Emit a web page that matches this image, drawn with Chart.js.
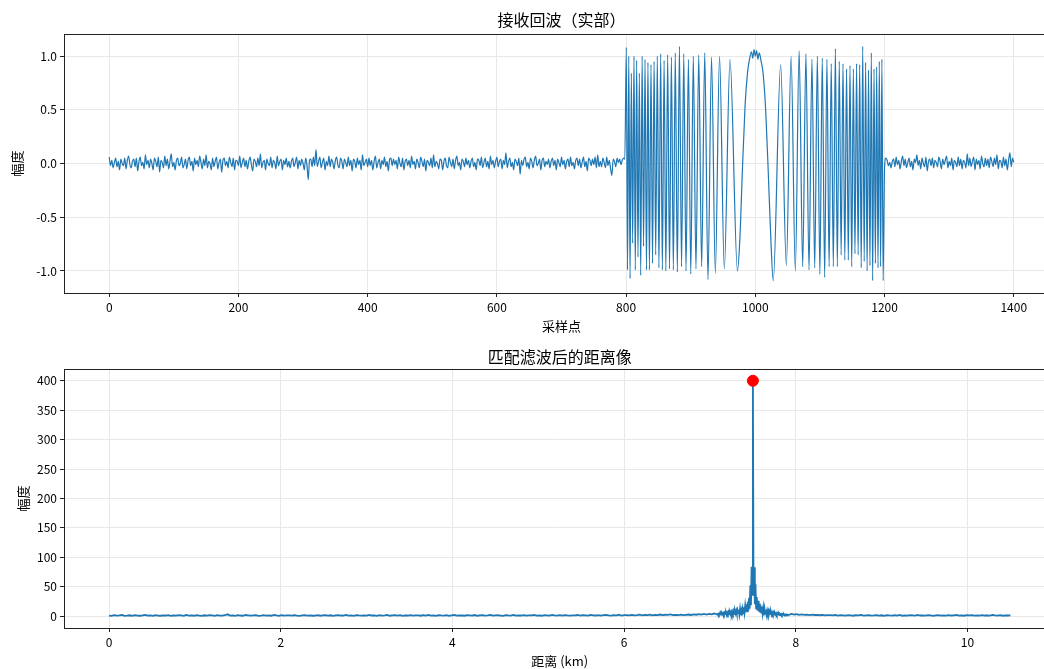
<!DOCTYPE html>
<html>
<head>
<meta charset="utf-8">
<script src="https://cdn.jsdelivr.net/npm/chart.js@4.4.0/dist/chart.umd.min.js"></script>
<style>
html, body { margin: 0; padding: 0; background: #fff; overflow: hidden; width: 1044px; height: 669px; }
canvas { position: absolute; left: 0; }
#echo { top: 0; }
#profile { top: 334px; }
</style>
</head>
<body>
<canvas id="echo" width="1062" height="334"></canvas>
<canvas id="profile" width="1062" height="335"></canvas>
<script>
// ---- received echo (real part) ----
const echoTicksX = [0, 200, 400, 600, 800, 1000, 1200, 1400];
const echoTicksY = [-1.0, -0.5, 0.0, 0.5, 1.0];

// noise before the pulse, every 2nd sample, 0..798
const noiseHead = [
  .06,-.02,.03,-.04,.01,.05,-.03,.02,-.06,.04,.00,-.02,.05,-.05,.03,.07,-.01,-.04,.02,.04,
  -.03,.05,-.07,.02,.06,-.02,.01,-.05,.08,-.01,.03,-.04,.04,.00,-.06,.05,.02,-.03,.06,-.08,
  .03,.01,-.04,.07,-.02,.04,-.05,.02,.09,-.03,.01,-.06,.03,.05,-.02,.00,.06,-.04,-.01,.04,
  -.05,.03,.06,-.02,.02,-.07,.05,-.01,.03,-.03,.07,.01,-.05,.04,-.02,.08,-.04,.02,.00,-.06,
  .05,-.03,.02,.06,-.05,.01,.04,-.08,.03,.05,-.02,.02,-.04,.06,.01,-.03,.05,-.06,.03,.02,
  -.02,.07,-.04,.01,.05,-.03,.03,-.05,.02,.06,-.01,-.07,.04,.02,-.03,.05,-.02,.09,-.04,.01,
  .03,-.06,.04,.00,-.02,.06,-.04,.03,.01,-.05,.07,-.02,.02,.04,-.06,.03,-.01,.05,-.03,.02,
  -.04,.02,.05,-.03,.01,.06,-.05,.03,-.02,.04,.00,-.06,.05,-.01,-.15,.03,.04,-.03,.06,-.02,
  .13,-.03,.02,.06,-.04,.01,.05,-.06,.02,-.02,.07,-.03,.04,.01,-.05,.03,.06,-.02,-.04,.05,
  .02,-.05,.04,.01,-.03,.06,-.02,.03,-.07,.04,.02,-.04,.05,-.01,.03,-.06,.08,-.02,.01,.04,
  -.03,.05,-.02,.03,-.06,.02,.07,-.04,.01,.04,-.05,.03,-.01,.06,-.03,.02,-.07,.04,.05,-.02,
  .04,-.01,.03,-.05,.06,.00,-.03,.05,-.06,.02,.04,-.02,.03,-.04,.07,-.01,.02,-.05,.04,.01,
  -.04,.06,.02,-.03,.04,-.07,.03,.01,-.02,.05,-.04,.08,-.03,.02,.00,-.05,.04,.03,-.06,.02,
  .05,-.02,-.04,.06,.01,-.03,.04,-.05,.03,.07,-.02,.01,-.06,.04,.02,-.03,.05,-.01,.03,-.04,
  .02,.05,-.03,.01,-.06,.04,.03,-.02,.06,-.04,.01,.05,-.03,.02,-.05,.07,-.01,.03,-.04,.02,
  .06,-.03,.02,.04,-.05,.03,-.01,.10,-.04,.02,.05,-.03,.01,-.06,.04,.02,-.02,.05,-.10,.03,
  -.02,.04,.06,-.03,.01,-.05,.05,.02,-.04,.03,.07,-.02,.00,.04,-.06,.03,.05,-.03,.02,-.01,
  .04,-.04,.02,.05,-.02,.03,-.06,.04,.01,-.03,.06,-.01,.03,-.05,.02,.04,-.03,.06,-.02,.01,
  -.05,.03,.05,-.02,.04,-.04,.01,.06,-.03,.02,-.07,.05,.03,-.02,.04,-.01,.06,-.04,.08,-.03,
  .02,-.03,.05,.01,-.04,.06,-.02,.03,-.05,-.11,.04,.02,-.03,.05,.01,.04,-.01,.03,.05,.04
];

// the chirp pulse: turning points (sample index, amplitude)
const pulseIdx = [
  800.3, 802.2, 804.1, 806.1, 808.1, 810.1, 812.2, 814.2, 816.3, 818.4,
  820.5, 822.6, 824.8, 827.0, 829.3, 831.5, 833.8, 836.1, 838.5, 840.9,
  843.3, 845.8, 848.3, 850.8, 853.5, 856.1, 858.8, 861.5, 864.3, 867.2,
  870.1, 873.1, 876.1, 879.3, 882.5, 885.8, 889.2, 892.7, 896.4, 900.1,
  904.0, 908.1, 912.4, 916.9, 921.7, 926.7, 932.2, 938.1, 944.6, 952.0,
  960.8, 972.3,
  976, 980, 984, 988, 991, 994, 996, 998, 1000, 1002, 1004, 1006, 1009, 1012, 1016, 1020, 1024,
  1027.7, 1039.2, 1048.0, 1055.4, 1061.9, 1067.8, 1073.3, 1078.3, 1083.1, 1087.6,
  1091.9, 1096.0, 1099.9, 1103.6, 1107.3, 1110.8, 1114.2, 1117.5, 1120.7, 1123.9,
  1126.9, 1129.9, 1132.8, 1135.7, 1138.5, 1141.2, 1143.9, 1146.5, 1149.2, 1151.7,
  1154.2, 1156.7, 1159.1, 1161.5, 1163.9, 1166.2, 1168.5, 1170.7, 1173.0, 1175.2,
  1177.4, 1179.5, 1181.6, 1183.7, 1185.8, 1187.8, 1189.9, 1191.9, 1193.9, 1195.9,
  1197.8, 1200
];
const pulseAmp = [
  1.08,-0.99,1.0,-1.07,0.84,-0.74,1.0,-0.99,0.96,-0.87,
  0.84,-1.04,1.0,-0.77,0.97,-0.99,0.94,-0.99,0.92,-0.93,
  0.95,-0.85,1.0,-0.97,1.02,-0.99,0.96,-1.0,1.01,-0.98,
  0.99,-0.99,1.03,-1.01,1.09,-0.96,1.02,-1.0,0.97,-1.03,
  1.0,-0.98,1.01,-0.96,1.03,-1.08,0.99,-1.02,1.0,-0.98,
  0.97,-1.0,
  -0.71,-0.06,0.52,0.85,0.97,1.04,0.98,1.06,1.0,1.05,0.97,1.03,0.95,0.84,0.50,-0.08,-0.70,
  -1.09,0.92,-0.95,1.0,-1.0,1.05,-0.96,1.02,-0.99,0.97,
  -0.97,1.0,-1.03,0.98,-1.06,0.97,-0.96,0.93,-0.96,1.07,
  -0.96,0.95,-0.85,0.93,-0.9,0.88,-0.9,0.91,-0.96,0.88,
  -0.84,0.93,-0.85,0.92,-0.97,1.09,-0.91,0.94,-1.0,0.87,
  -0.95,1.03,-1.09,0.88,-0.93,0.9,-0.97,0.95,-0.96,0.97,
  -1.09,-0.04
];

// noise after the pulse, every 2nd sample, 1202..1400
const noiseTail = [
  .05,.03,-.02,.01,-.04,.02,.04,-.03,.06,-.01,.03,-.05,.02,.07,-.02,.04,-.04,.01,.05,-.03,
  .02,-.06,.04,.01,.08,-.02,.03,-.05,.05,.00,-.03,.06,-.07,.02,.04,-.02,.05,-.04,.03,.01,
  -.03,.06,.02,-.05,.04,-.01,.03,.07,-.04,.02,-.02,.05,-.06,.03,.01,-.03,.06,-.02,.04,-.05,
  .03,.01,-.04,.09,-.02,.05,-.03,.02,.06,-.06,.04,-.01,.03,-.05,.07,.00,-.03,.05,-.02,.04,
  -.04,.06,.02,-.03,.05,-.01,.08,-.05,.03,.02,-.04,.06,-.02,.04,-.06,.03,.10,-.03,.05,.01
];

// ---- range profile after matched filtering ----
const kmPerSample = 0.0075;
const profileTicksX = [0, 2, 4, 6, 8, 10];
const profileTicksY = [0, 50, 100, 150, 200, 250, 300, 350, 400];

// floor, every 4th sample, 0..940
const floorHead = [
  1.2,0.6,1.8,0.9,1.4,2.1,0.7,1.1,1.6,0.5,1.9,1.0,0.8,1.5,2.3,0.9,1.3,0.6,1.7,1.1,
  0.8,1.6,1.2,2.0,0.7,1.4,0.9,1.8,1.3,0.6,2.2,1.0,1.5,0.8,1.9,1.2,0.5,1.6,1.1,2.0,
  1.4,0.7,1.9,1.1,0.9,1.7,3.2,1.0,1.3,0.6,1.8,1.2,0.8,2.1,1.5,0.9,1.4,1.7,0.7,1.2,
  1.9,1.0,1.5,0.8,2.2,1.3,0.6,1.7,1.1,1.5,1.4,0.9,1.8,1.2,0.7,1.6,2.0,1.0,1.3,0.8,
  1.1,1.7,0.8,1.4,2.0,1.0,1.6,0.7,1.3,1.9,1.2,0.9,2.3,1.1,1.5,0.6,1.8,1.3,1.0,1.6,
  0.9,2.1,1.2,1.5,0.7,1.8,1.1,1.4,2.2,0.8,1.3,1.7,1.0,1.9,0.6,1.4,1.2,2.0,0.9,1.5,
  1.3,0.8,1.7,1.2,2.4,1.0,1.5,0.7,1.9,1.3,1.1,1.8,0.6,1.4,2.1,1.0,1.6,1.2,0.8,1.7,
  1.5,1.1,2.0,0.8,1.4,1.8,1.0,1.6,2.3,0.9,1.3,1.7,1.2,0.7,1.9,1.4,1.1,2.2,1.0,1.5,
  1.2,1.8,0.9,1.6,1.3,2.1,1.0,1.4,0.8,1.9,1.5,1.1,2.4,1.3,0.9,1.7,1.2,2.0,1.4,1.0,
  1.6,1.3,2.1,1.0,1.8,1.4,0.9,2.3,1.5,1.2,1.9,1.1,1.7,2.2,1.3,1.0,1.8,1.5,2.5,1.2,
  1.7,2.0,1.4,2.4,1.6,1.9,2.6,1.5,2.2,1.8,2.8,1.6,2.3,2.0,2.9,1.8,2.5,2.2,3.1,2.0,
  2.2,1.9,2.6,1.8,2.4,2.9,2.1,3.1,2.5,3.4,2.6,3.8,2.9,4.1,3.3,4.6
];
// around the target, every sample, 945..1055
const peakZone = [
  2.8,4.2,2.3,4.6,2.9,5.0,2.6,5.3,3.2,5.6,
  3.0,5.9,3.6,6.2,2.8,6.5,3.9,6.9,3.3,7.2,
  4.1,7.6,3.5,8.0,4.6,8.5,3.8,9.0,4.9,9.6,
  4.3,10.2,5.4,11.0,3.2,12.1,1.8,8.5,1.2,11.8,
  5.1,15.2,6.3,17.4,7.0,20.1,8.2,24.8,9.5,31.3,
  12.6,52.4,18.7,84.1,36.5,
  400,
  38.2,83.0,20.4,55.1,13.2,
  32.6,9.8,26.0,8.1,21.3,6.6,18.0,6.0,16.1,5.2,
  13.9,1.2,12.1,4.4,11.0,3.7,9.7,4.2,8.9,3.4,
  8.0,3.9,7.2,2.8,6.6,3.5,6.1,2.6,5.5,3.0,
  5.1,2.3,4.7,3.1,4.4,2.0,4.0,2.7,3.8,1.9,
  3.5,2.4,3.3,1.6,3.0,2.2,2.8,1.5,2.6,2.0
];
// floor, every 4th sample, 1060..1400
const floorTail = [
  3.9,2.6,3.5,2.2,3.1,2.4,2.8,1.9,2.6,2.1,2.3,1.7,2.2,1.5,2.0,1.8,1.4,2.1,1.2,1.9,
  1.6,1.1,2.0,1.4,0.8,1.7,1.3,2.2,1.0,1.5,1.8,0.9,1.4,2.0,1.1,1.6,0.7,1.9,1.3,1.0,
  1.7,1.2,2.1,0.8,1.5,1.1,1.8,1.4,0.9,2.3,1.2,1.6,1.0,1.9,1.3,0.7,1.5,2.0,1.1,1.4,
  0.9,1.8,1.2,1.6,2.1,1.0,1.4,0.8,1.7,1.3,2.0,1.1,1.5,0.9,1.8,1.2,1.6,1.0,2.2,1.3,
  1.1,1.7,0.8,1.5,1.2,1.4
];

// ---- build points ----
const echoPoints = [];
noiseHead.forEach((v, i) => echoPoints.push({ x: i * 2, y: v }));
pulseIdx.forEach((n, i) => echoPoints.push({ x: n, y: pulseAmp[i] }));
noiseTail.forEach((v, i) => echoPoints.push({ x: 1202 + i * 2, y: v }));

const profilePoints = [];
floorHead.forEach((v, i) => profilePoints.push({ x: i * 4 * kmPerSample, y: v }));
peakZone.forEach((v, i) => profilePoints.push({ x: (945 + i) * kmPerSample, y: v }));
floorTail.forEach((v, i) => profilePoints.push({ x: (1060 + i * 4) * kmPerSample, y: v }));
const peak = profilePoints.reduce((a, b) => (b.y > a.y ? b : a));

Chart.defaults.font.family = '"Noto Sans CJK SC", "DejaVu Sans", sans-serif';
Chart.defaults.font.size = 12;
Chart.defaults.color = '#000';

const BLUE = '#1f77b4';

// frame, title and axis labels like matplotlib
const decor = {
  id: 'decor',
  afterDraw(chart, args, opts) {
    const { ctx, chartArea: a } = chart;
    ctx.save();
    ctx.strokeStyle = '#222';
    ctx.lineWidth = 1;
    ctx.strokeRect(a.left + 0.5, a.top + 0.5, a.right - a.left, a.bottom - a.top);
    ctx.fillStyle = '#000';
    ctx.textAlign = 'center';
    ctx.textBaseline = 'middle';
    const cx = (a.left + a.right) / 2;
    ctx.font = '16px "Noto Sans CJK SC"';
    ctx.fillText(opts.title, cx, a.top - opts.titleGap);
    ctx.font = '13px "Noto Sans CJK SC"';
    ctx.fillText(opts.xlabel, cx, a.bottom + 33);
    ctx.translate(opts.ylabelX, (a.top + a.bottom) / 2);
    ctx.rotate(-Math.PI / 2);
    ctx.fillText(opts.ylabel, 0, 0);
    ctx.restore();
  }
};

function axis(min, max, ticks, fmt, fit) {
  return {
    type: 'linear',
    min: min,
    max: max,
    border: { display: false },
    grid: { color: '#e8e8e8', lineWidth: 1, tickColor: '#222', tickLength: 4 },
    ticks: { padding: 3, callback: fmt, autoSkip: false, maxRotation: 0 },
    afterBuildTicks: s => { s.ticks = ticks.map(v => ({ value: v })); },
    afterFit: fit
  };
}

new Chart(document.getElementById('echo'), {
  type: 'line',
  data: {
    datasets: [{
      data: echoPoints,
      borderColor: BLUE,
      borderWidth: 1.2,
      pointRadius: 0,
      cubicInterpolationMode: 'monotone',
      fill: false
    }]
  },
  options: {
    responsive: false,
    animation: false,
    devicePixelRatio: 1,
    parsing: false,
    layout: { padding: { top: 34, right: 3, left: 0, bottom: 0 } },
    plugins: {
      legend: { display: false },
      tooltip: { enabled: false },
      decor: { title: '接收回波（实部）', titleGap: 14, xlabel: '采样点', ylabel: '幅度', ylabelX: 17 }
    },
    scales: {
      x: axis(-70, 1470, echoTicksX, v => String(v), s => { s.height = 41; }),
      y: axis(-1.205, 1.205, echoTicksY, v => v.toFixed(1), s => { s.width = 64; })
    }
  },
  plugins: [decor]
});

new Chart(document.getElementById('profile'), {
  type: 'line',
  data: {
    datasets: [{
      data: profilePoints,
      borderColor: BLUE,
      borderWidth: 1.8,
      pointRadius: 0,
      fill: false,
      order: 2
    }, {
      data: [peak],
      borderColor: 'red',
      backgroundColor: 'red',
      pointRadius: 5.5,
      showLine: false,
      order: 1
    }]
  },
  options: {
    responsive: false,
    animation: false,
    devicePixelRatio: 1,
    parsing: false,
    layout: { padding: { top: 35, right: 3, left: 0, bottom: 0 } },
    plugins: {
      legend: { display: false },
      tooltip: { enabled: false },
      decor: { title: '匹配滤波后的距离像', titleGap: 12, xlabel: '距离 (km)', ylabel: '幅度', ylabelX: 23 }
    },
    scales: {
      x: axis(-0.525, 11.025, profileTicksX, v => String(v), s => { s.height = 41; }),
      y: axis(-20, 420, profileTicksY, v => String(v), s => { s.width = 64; })
    }
  },
  plugins: [decor]
});
</script>
</body>
</html>
